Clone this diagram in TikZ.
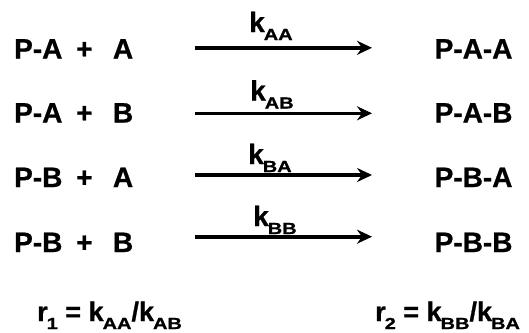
\documentclass[tikz,border=0pt]{standalone}
\usepackage{fontspec}
\setmainfont{Liberation Sans}[BoldFeatures={FakeBold=0.8}]
\usetikzlibrary{arrows.meta}
\newcommand\sbs[1]{\kern-1pt\raisebox{-8pt}{\scalebox{1.25}[1]{\fontsize{16}{17}\selectfont\bfseries #1}}}
\newcommand\bigtxt{\fontsize{28}{30}\selectfont\bfseries}
\newcommand\bottxt{\fontsize{27}{29}\selectfont\bfseries}
\tikzset{
  eq/.style={anchor=base west, inner sep=0pt, font=\bigtxt},
  klab/.style={anchor=base west, inner sep=0pt, font=\bigtxt},
  rate/.style={anchor=base west, inner sep=0pt, font=\bottxt},
  rxn/.style={line width=3.6pt, -{Stealth[length=15pt, width=14pt, inset=5pt]}}
}
\newcommand\lhs[2]{#1\hspace{13.8pt}+\hspace{20.4pt}#2}
\begin{document}
\begin{tikzpicture}[x=1pt, y=-1pt]
\path[use as bounding box] (0,0) rectangle (529,332);
% left sides
\node[eq] (l1) at (14,58.5)  {\lhs{P-A}{A}};
\node[eq] (l2) at (14,122.5) {\lhs{P-A}{B}};
\node[eq] (l3) at (14,187)   {\lhs{P-B}{A}};
\node[eq] (l4) at (14,252)   {\lhs{P-B}{B}};
% right sides
\node[eq] (r1) at (434.5,58.5)  {P-A-A};
\node[eq] (r2) at (434.5,122.5) {P-A-B};
\node[eq] (r3) at (434.5,187)   {P-B-A};
\node[eq] (r4) at (434.5,252)   {P-B-B};
% arrows
\coordinate (s1) at (195,47.8);  \coordinate (e1) at (372,47.8);
\coordinate (s2) at (195,113.3); \coordinate (e2) at (372,113.3);
\coordinate (s3) at (195,175);   \coordinate (e3) at (372,175);
\coordinate (s4) at (195,236.7); \coordinate (e4) at (372,236.7);
\draw[rxn] (s1) -- (e1);
\draw[rxn] (s2) -- (e2);
\draw[rxn] (s3) -- (e3);
\draw[rxn] (s4) -- (e4);
% rate constants
\node[klab] (k1) at (249,32)  {k\sbs{AA}};
\node[klab] (k2) at (250,100.5) {k\sbs{AB}};
\node[klab] (k3) at (248,164) {k\sbs{BA}};
\node[klab] (k4) at (253,226) {k\sbs{BB}};
% reactivity ratios
\node[rate] (q1) at (37,321) {r\sbs{1} = k\sbs{AA}/k\sbs{AB}};
\node[rate] (q2) at (375,321) {r\sbs{2} = k\sbs{BB}/k\sbs{BA}};
\end{tikzpicture}
\end{document}
